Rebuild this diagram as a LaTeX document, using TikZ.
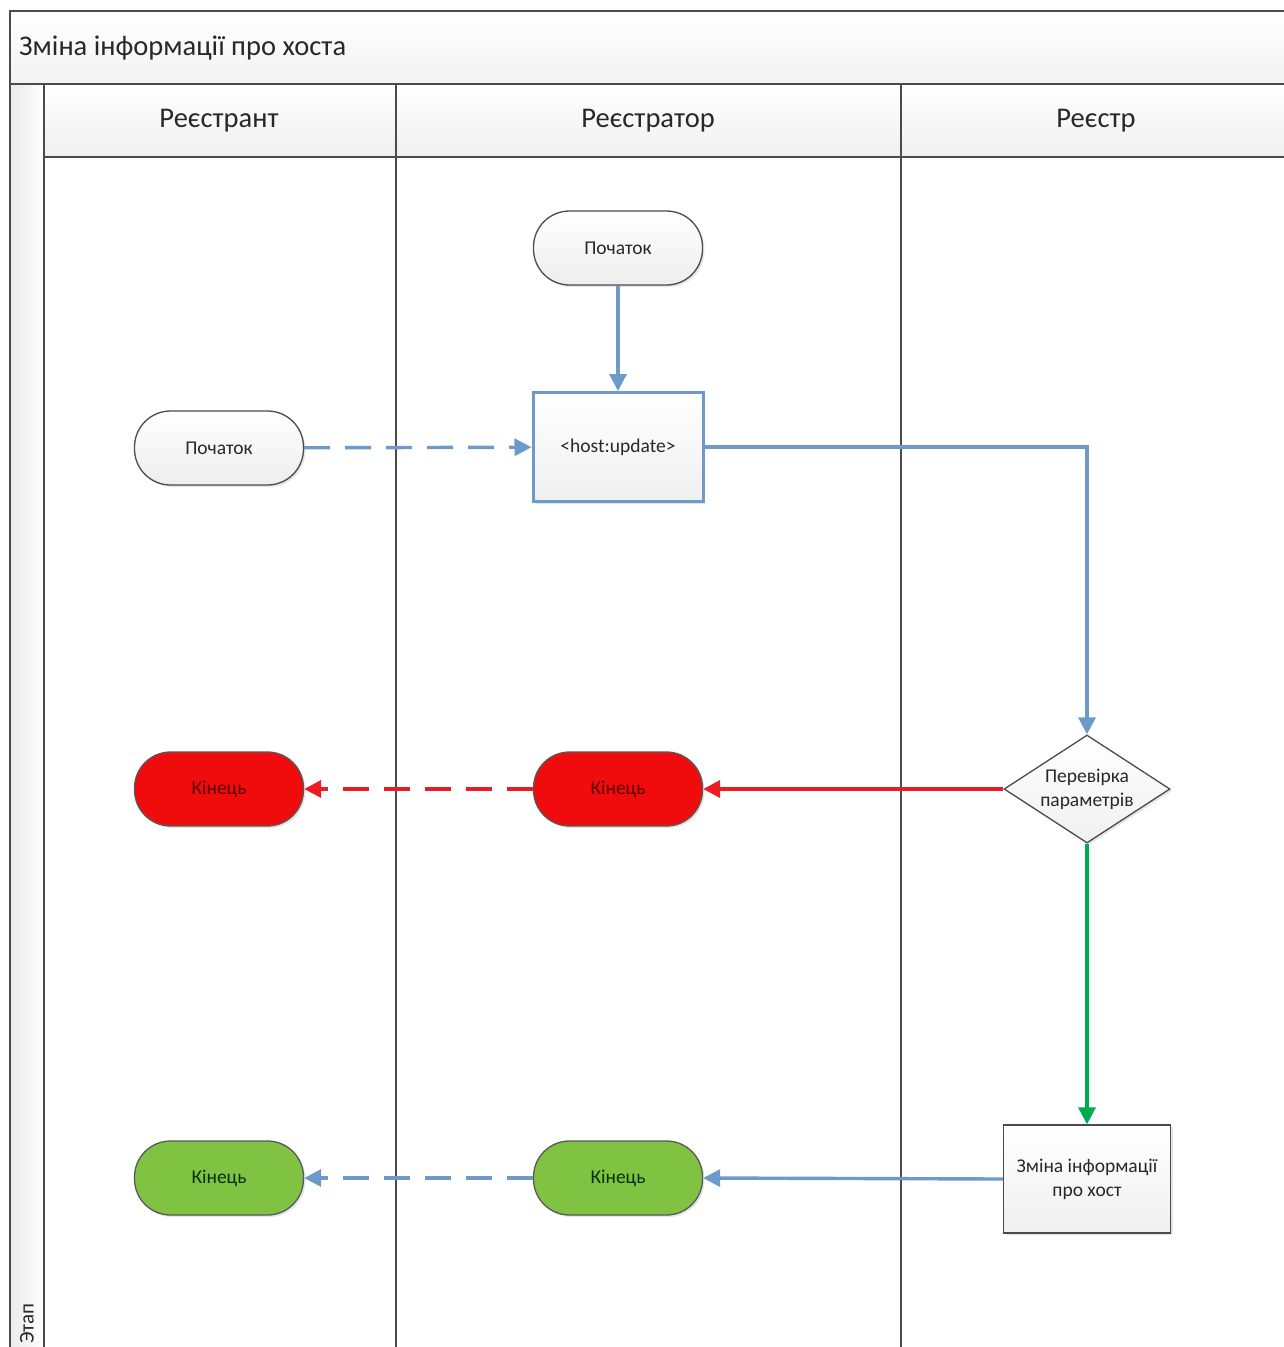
\documentclass[tikz,border=0pt]{standalone}
\usepackage{fontspec}
\setmainfont{Carlito}
\usetikzlibrary{arrows.meta,shapes.geometric,shadows}
\definecolor{flowblue}{RGB}{109,154,203}
\definecolor{flowred}{RGB}{236,28,36}
\definecolor{endred}{RGB}{240,12,12}
\definecolor{endgreen}{RGB}{128,194,66}
\definecolor{flowgreen}{RGB}{0,170,80}
\definecolor{lanegray}{RGB}{75,75,75}
\definecolor{txtgray}{RGB}{40,40,40}
\tikzset{
  lane/.style={draw=lanegray, line width=1.4pt},
  soft/.style={drop shadow={shadow xshift=2pt, shadow yshift=-2pt, opacity=0.2}},
  terminator/.style={rectangle, rounded corners=36pt, minimum width=169pt, minimum height=74pt,
    draw=lanegray, line width=1.3pt, inner sep=0pt, soft, text=txtgray,
    font=\fontsize{19.5}{21}\selectfont},
  plainterm/.style={terminator, top color=white, bottom color=gray!14},
  redterm/.style={terminator, fill=endred, draw=black!65, text=red!35!black},
  greenterm/.style={terminator, fill=endgreen, draw=black!65, text=green!20!black},
  process/.style={rectangle, minimum width=167pt, minimum height=108pt, draw=lanegray,
    line width=1.3pt, top color=white, bottom color=gray!12, soft, inner sep=0pt,
    align=center, text=txtgray, font=\fontsize{19.5}{24}\selectfont},
  blueprocess/.style={process, draw=flowblue, line width=3pt, minimum width=170pt, minimum height=109pt},
  decision/.style={diamond, minimum width=166pt, minimum height=108pt, aspect=1.54,
    draw=lanegray, line width=1.3pt, top color=white, bottom color=gray!12, soft, inner sep=0pt,
    align=center, text=txtgray, font=\fontsize{19.5}{24}\selectfont},
  flow/.style={line width=3.4pt, -{Triangle[length=17pt,width=17pt]}},
  blueflow/.style={flow, draw=flowblue, color=flowblue},
  redflow/.style={flow, draw=flowred, color=flowred},
  greenflow/.style={flow, draw=flowgreen, color=flowgreen},
  dashflow/.style={dash pattern=on 26pt off 15pt},
  header/.style={font=\fontsize{28.5}{30}\selectfont, text=txtgray}
}
\begin{document}
\begin{tikzpicture}[x=1pt,y=-1pt]
\useasboundingbox (0,0) rectangle (1284,1347);
\fill[white] (0,0) rectangle (1284,1347);
\begin{scope}
\clip (0,0) rectangle (1284,1347);
\shade[top color=white, bottom color=gray!10] (10,11) rectangle (1300,84);
\shade[left color=gray!16, right color=white] (10,84) rectangle (44,1360);
\shade[top color=white, bottom color=gray!12] (44,84) rectangle (1300,157);
\draw[lane] (1300,11) -- (10,11) -- (10,1360);
\draw[lane] (10,84) -- (1300,84);
\draw[lane] (44,157) -- (1300,157);
\draw[lane] (44,84) -- (44,1360);
\draw[lane] (396,84) -- (396,1360);
\draw[lane] (901,84) -- (901,1360);
\node[rotate=90, anchor=east, inner sep=0pt, text=txtgray, font=\fontsize{21}{21}\selectfont] (stage) at (27,1303) {Этап};
\end{scope}

\node[header, anchor=west, inner sep=0pt] (title) at (19,48) {Зміна інформації про хоста};
\node[header] (h1) at (219,121) {Реєстрант};
\node[header] (h2) at (648,121) {Реєстратор};
\node[header] (h3) at (1096,121) {Реєстр};

\node[plainterm] (startB) at (618,248) {Початок};
\node[blueprocess] (upd) at (618,447) {<host:update>};
\node[plainterm] (startA) at (219,448) {Початок};
\node[decision] (chk) at (1087,789) {Перевірка\\параметрів};
\node[redterm] (redB) at (618,789) {Кінець};
\node[redterm] (redA) at (219,789) {Кінець};
\node[process] (chg) at (1087,1179) {Зміна інформації\\про хост};
\node[greenterm] (grnB) at (618,1178) {Кінець};
\node[greenterm] (grnA) at (219,1178) {Кінець};

\draw[blueflow] (startB) -- (upd);
\draw[blueflow, dashflow] (startA) -- (upd);
\draw[blueflow] (upd.east) -| (chk.north);
\draw[redflow] (chk.west) -- (redB.east);
\draw[redflow, dashflow] (redB) -- (redA);
\draw[greenflow] (chk.south) -- (chg.north);
\draw[blueflow] (chg.west) -- (grnB.east);
\draw[blueflow, dashflow] (grnB) -- (grnA);
\end{tikzpicture}
\end{document}
